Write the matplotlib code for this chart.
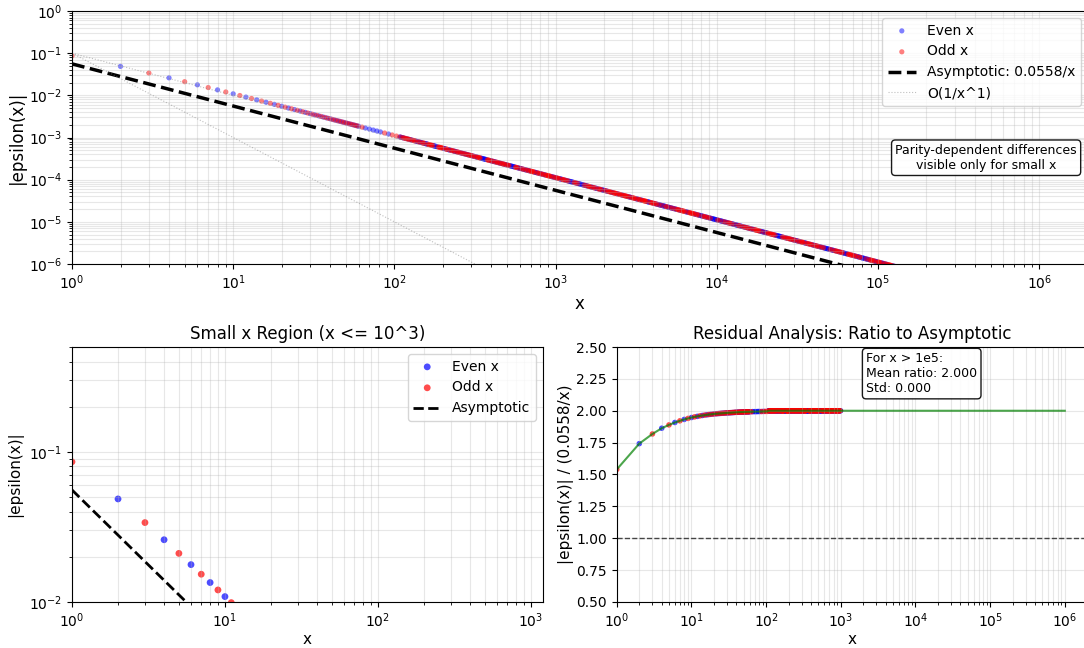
import numpy as np
import matplotlib.pyplot as plt

# asymptotic constant: |epsilon(x)| ~ C / x
C_ASYM = 0.0558

# ratio |epsilon(x)| / (C/x) for the first integers
x_small = np.arange(1, 61)
ratio_small = [1.540, 1.742, 1.818, 1.863, 1.889, 1.908, 1.921, 1.932, 1.940, 1.947,
               1.952, 1.956, 1.960, 1.963, 1.966, 1.968, 1.970, 1.972, 1.973, 1.975,
               1.976, 1.977, 1.978, 1.979, 1.980, 1.981, 1.981, 1.982, 1.983, 1.983,
               1.984, 1.984, 1.985, 1.985, 1.986, 1.986, 1.987, 1.987, 1.988, 1.988,
               1.988, 1.989, 1.989, 1.989, 1.990, 1.990, 1.990, 1.990, 1.990, 1.991,
               1.991, 1.991, 1.991, 1.991, 1.992, 1.992, 1.992, 1.992, 1.992, 1.992]

# sparser readings up to x = 100
x_mid = [63, 66, 70, 74, 78, 82, 87, 92, 97, 103]
ratio_mid = [1.992, 1.993, 1.993, 1.993, 1.994, 1.994, 1.994, 1.995, 1.995, 1.995]

# beyond that the ratio sits on its plateau (mean 2.000, std 0.000)
ratio_plateau = 2.000
x_far = np.unique(np.round(np.geomspace(108, 1e6, 820)).astype(int))

x = np.concatenate([x_small, x_mid, x_far])
ratio = np.concatenate([ratio_small, ratio_mid, np.full(len(x_far), ratio_plateau)])
eps = ratio * C_ASYM / x

even = x % 2 == 0
odd = ~even

fig = plt.figure(figsize=(10.84, 6.48), dpi=100)
ax1 = fig.add_axes([0.0664, 0.5926, 0.937, 0.3904])
ax2 = fig.add_axes([0.0664, 0.071, 0.4345, 0.3935])
ax3 = fig.add_axes([0.569, 0.071, 0.434, 0.3935])

# --- full range ---
ax1.scatter(x[even], eps[even], s=14, c='blue', alpha=0.5, label='Even x', edgecolors='none')
ax1.scatter(x[odd], eps[odd], s=14, c='red', alpha=0.5, label='Odd x', edgecolors='none')
xx = np.array([1, 1e6])
ax1.plot(xx, C_ASYM / xx, 'k--', lw=2.5, label=f'Asymptotic: {C_ASYM:.4f}/x')
ax1.plot(xx, 0.1 / xx, ':', color='gray', lw=0.8, alpha=0.5, label='O(1/x^1)')
ax1.plot(xx, 0.1 / xx**2, ':', color='gray', lw=0.8, alpha=0.5)
ax1.set_xscale('log')
ax1.set_yscale('log')
ax1.set_xlim(1, 2e6)
ax1.set_ylim(1e-6, 1)
ax1.set_xlabel('x', fontsize=12, labelpad=2)
ax1.set_ylabel('|epsilon(x)|', fontsize=12, labelpad=2)
ax1.grid(True, which='both', alpha=0.3)
ax1.legend(loc='upper right', fontsize=10)
ax1.text(0.9, 0.42, 'Parity-dependent differences\nvisible only for small x',
         transform=ax1.transAxes, ha='center', va='center', fontsize=9,
         bbox=dict(boxstyle='round', facecolor='white', alpha=0.9))

# --- small x ---
m = x <= 1000
ax2.scatter(x[m & even], eps[m & even], s=24, c='blue', alpha=0.7, label='Even x', edgecolors='none')
ax2.scatter(x[m & odd], eps[m & odd], s=24, c='red', alpha=0.7, label='Odd x', edgecolors='none')
xs = np.array([1, 1000])
ax2.plot(xs, C_ASYM / xs, 'k--', lw=2, label='Asymptotic')
ax2.set_xscale('log')
ax2.set_yscale('log')
ax2.set_xlim(1, 1200)
ax2.set_ylim(1e-2, 0.5)
ax2.set_xlabel('x', fontsize=11, labelpad=1)
ax2.set_ylabel('|epsilon(x)|', fontsize=11)
ax2.set_title('Small x Region (x <= 10^3)', fontsize=12)
ax2.grid(True, which='both', alpha=0.3)
ax2.legend(loc='upper right', fontsize=10)

# --- ratio to asymptotic ---
ax3.plot(x, ratio, color='green', lw=1.5, alpha=0.7)
ax3.scatter(x[m & even], ratio[m & even], s=16, c='blue', alpha=0.7, edgecolors='none')
ax3.scatter(x[m & odd], ratio[m & odd], s=16, c='red', alpha=0.7, edgecolors='none')
ax3.axhline(1.0, color='k', ls='--', lw=1, alpha=0.7)
ax3.set_xscale('log')
ax3.set_xlim(1, 2e6)
ax3.set_ylim(0.5, 2.5)
ax3.set_yticks(np.arange(0.5, 2.51, 0.25))
ax3.set_xlabel('x', fontsize=11, labelpad=1)
ax3.set_ylabel(f'|epsilon(x)| / ({C_ASYM:.4f}/x)', fontsize=11, labelpad=2)
ax3.set_title('Residual Analysis: Ratio to Asymptotic', fontsize=12)
ax3.grid(True, which='both', alpha=0.3)
big = x > 1e5
ax3.text(0.53, 0.98, f'For x > 1e5:\nMean ratio: {ratio[big].mean():.3f}\nStd: {ratio[big].std():.3f}',
         transform=ax3.transAxes, ha='left', va='top', fontsize=9,
         bbox=dict(boxstyle='round', facecolor='white', alpha=0.9))

fig.savefig('out.png', dpi=100)
